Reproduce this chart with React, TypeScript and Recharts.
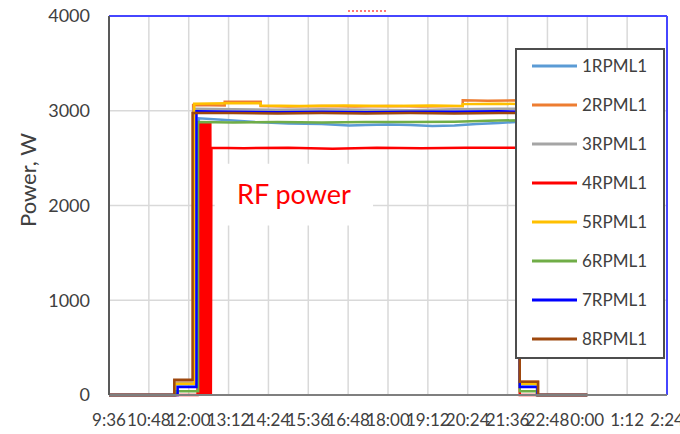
import React from 'react';
import { LineChart, Line, XAxis, YAxis, CartesianGrid, ReferenceLine, ReferenceArea, Legend } from 'recharts';

// time is minutes from midnight, values above 1440 are the next day
const tickMinutes = [576, 648, 720, 792, 864, 936, 1008, 1080, 1152, 1224, 1296, 1368, 1440, 1512, 1584];
const powerTicks = [0, 1000, 2000, 3000, 4000];
const seriesNames = ['1RPML1', '2RPML1', '3RPML1', '4RPML1', '5RPML1', '6RPML1', '7RPML1', '8RPML1'];
const seriesColors = ['#5B9BD5', '#ED7D31', '#A5A5A5', '#FF0000', '#FFC000', '#70AD47', '#0000FF', '#9E480E'];

const t1 = [576, 695, 695, 738, 738, 780, 840, 900, 960, 1010, 1040, 1080, 1120, 1160, 1200, 1240, 1280, 1318, 1318, 1350, 1350, 1440];
const w1 = [0, 0, 110, 110, 2920, 2905, 2880, 2865, 2860, 2845, 2850, 2855, 2850, 2840, 2845, 2860, 2870, 2885, 110, 110, 0, 0];

const t2 = [576, 694, 694, 728, 728, 785, 785, 850, 850, 900, 960, 1020, 1080, 1140, 1215, 1215, 1260, 1318, 1318, 1351, 1351, 1440];
const w2 = [0, 0, 150, 150, 3060, 3055, 3095, 3095, 3050, 3045, 3050, 3045, 3050, 3045, 3050, 3110, 3105, 3110, 140, 140, 0, 0];

const t3 = [576, 696, 696, 729, 729, 800, 880, 960, 1040, 1120, 1200, 1280, 1318, 1318, 1349, 1349, 1440];
const w3 = [0, 0, 130, 130, 3020, 3015, 3010, 3015, 3010, 3005, 3015, 3020, 3020, 130, 130, 0, 0];

// RF power on 4RPML1 trips several times before it settles
const t4 = [576, 736, 737, 738, 739, 740, 741, 742, 743, 744, 745, 746, 747, 748, 749, 750, 751, 752, 753, 754, 755, 756, 757, 758, 759, 760, 761, 820, 900, 980, 1060, 1140, 1220, 1318, 1318, 1440];
const w4 = [0, 0, 2880, 0, 2880, 0, 2880, 0, 2880, 0, 2880, 0, 2880, 0, 2880, 0, 2880, 0, 2880, 0, 2880, 0, 2880, 0, 2880, 0, 2610, 2605, 2610, 2600, 2610, 2605, 2610, 2610, 0, 0];

const t5 = [576, 695, 695, 730, 730, 790, 850, 850, 920, 1000, 1080, 1160, 1215, 1215, 1280, 1318, 1318, 1350, 1350, 1440];
const w5 = [0, 0, 120, 120, 3075, 3080, 3080, 3055, 3050, 3055, 3050, 3055, 3050, 3070, 3075, 3070, 120, 120, 0, 0];

const t6 = [576, 697, 697, 737, 737, 800, 880, 960, 1040, 1120, 1200, 1260, 1318, 1318, 1349, 1349, 1440];
const w6 = [0, 0, 40, 40, 2880, 2875, 2880, 2875, 2880, 2880, 2885, 2895, 2900, 40, 40, 0, 0];

const t7 = [576, 700, 700, 734, 734, 800, 880, 960, 1040, 1120, 1200, 1280, 1318, 1318, 1350, 1350, 1440];
const w7 = [0, 0, 85, 85, 2995, 2990, 2985, 2990, 2985, 2990, 2990, 2995, 2990, 85, 85, 0, 0];

const t8 = [576, 694, 694, 727, 727, 800, 880, 960, 1040, 1120, 1200, 1280, 1318, 1318, 1351, 1351, 1440];
const w8 = [0, 0, 160, 160, 2975, 2975, 2970, 2975, 2970, 2975, 2970, 2975, 2975, 140, 140, 0, 0];

const times = [t1, t2, t3, t4, t5, t6, t7, t8];
const powers = [w1, w2, w3, w4, w5, w6, w7, w8];

const toSeries = (t: number[], w: number[]) => t.map((x, i) => ({ t: x, w: w[i] }));

const fmtTime = (m: number) => {
  const mm = m % 1440;
  const h = Math.floor(mm / 60);
  const min = mm % 60;
  return `${h}:${min < 10 ? '0' : ''}${min}`;
};

const FONT = 'Lato, "Open Sans", sans-serif';

const LegendBox = () => (
  <svg width={150} height={311}>
    <rect x={1} y={1} width={148} height={309} fill="#fff" stroke="#4d4d4d" strokeWidth={2} />
    {seriesNames.map((name, i) => {
      const y = 18 + i * 39;
      return (
        <g key={name}>
          <line x1={17} x2={62} y1={y} y2={y} stroke={seriesColors[i]} strokeWidth={3} />
          <text x={67} y={y} dy="0.36em" fontSize={17} fill="#404040" fontFamily={FONT}>{name}</text>
        </g>
      );
    })}
  </svg>
);

const YLabel = () => (
  <text x={27} y={180} transform="rotate(-90 27 180)" textAnchor="middle" dominantBaseline="central" fontSize={22} fill="#404040" fontFamily={FONT}>
    Power, W
  </text>
);

export default function App() {
  return (
    <div style={{ position: 'absolute', left: 0, top: 0, width: 680, height: 434, background: '#fff' }}>
      <div style={{ position: 'absolute', left: 348, top: 10, width: 38, borderTop: '2px dotted #FF7878' }} />
      <LineChart width={680} height={434} margin={{ top: 16, right: 13, bottom: 0, left: 0 }}>
        <CartesianGrid stroke="#D9D9D9" strokeWidth={1.5} />
        <XAxis
          dataKey="t"
          type="number"
          domain={[576, 1584]}
          ticks={tickMinutes}
          interval={0}
          tickFormatter={fmtTime}
          height={39}
          tickSize={0}
          tickMargin={19}
          allowDataOverflow
          axisLine={{ stroke: '#7F7F7F', strokeWidth: 2 }}
          tick={{ fontSize: 17, fill: '#404040', fontFamily: FONT }}
        />
        <YAxis
          type="number"
          domain={[0, 4000]}
          ticks={powerTicks}
          width={109}
          tickSize={0}
          tickMargin={19}
          axisLine={{ stroke: '#595959', strokeWidth: 2 }}
          tick={{ fontSize: 18, fill: '#404040', fontFamily: FONT }}
          label={<YLabel />}
        />
        <ReferenceArea
          x1={767}
          x2={1053}
          y1={1790}
          y2={2440}
          fill="#fff"
          fillOpacity={1}
          stroke="none"
          label={{ value: 'RF power', position: 'center', fill: '#FF0000', fontSize: 27, fontFamily: FONT }}
        />
        <ReferenceLine y={4000} stroke="#4646FF" strokeWidth={2} />
        <ReferenceLine x={1584} stroke="#4646FF" strokeWidth={2} />
        {seriesNames.map((name, i) => (
          <Line
            key={name}
            name={name}
            data={toSeries(times[i], powers[i])}
            dataKey="w"
            type="linear"
            stroke={seriesColors[i]}
            strokeWidth={2.5}
            dot={false}
            activeDot={false}
            isAnimationActive={false}
          />
        ))}
        <Legend
          layout="vertical"
          align="center"
          verticalAlign="middle"
          content={<LegendBox />}
          wrapperStyle={{ left: 515, top: 48, width: 150, height: 311 }}
        />
      </LineChart>
    </div>
  );
}
